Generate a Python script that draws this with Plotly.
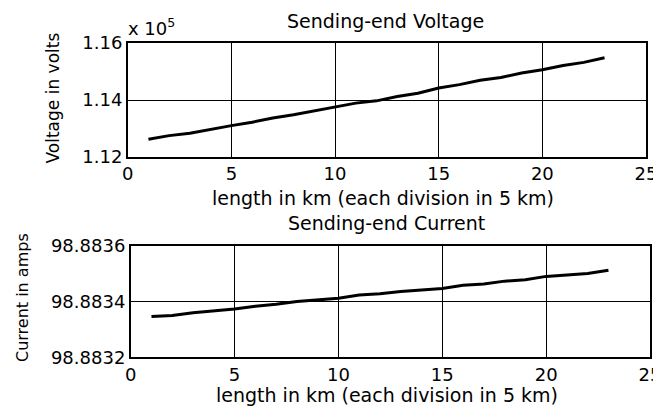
import plotly.graph_objects as go

length_km = list(range(1, 24))
voltage_v = [112620, 112750, 112830, 112970, 113100, 113220, 113370, 113480, 113620, 113750,
             113890, 113970, 114120, 114240, 114420, 114540, 114690, 114790, 114950, 115060,
             115210, 115320, 115480]
current_a = [98.883346, 98.883350, 98.883360, 98.883366, 98.883373, 98.883383, 98.883390,
             98.883400, 98.883405, 98.883412, 98.883423, 98.883428, 98.883436, 98.883441,
             98.883447, 98.883458, 98.883463, 98.883473, 98.883478, 98.883490, 98.883495,
             98.883500, 98.883512]
x_ticks = [0, 5, 10, 15, 20, 25]
v_ticks = [1.12, 1.14, 1.16]
i_ticks = [98.8832, 98.8834, 98.8836]

OFF = 8  # default page body margin
W, H = 661 - OFF, 410 - OFF
FONT = "DejaVu Sans"

fig = go.Figure()
fig.add_trace(go.Scatter(x=length_km, y=[v / 1e5 for v in voltage_v], mode="lines",
                         line=dict(color="black", width=3), xaxis="x", yaxis="y",
                         showlegend=False))
fig.add_trace(go.Scatter(x=length_km, y=current_a, mode="lines",
                         line=dict(color="black", width=3), xaxis="x2", yaxis="y2",
                         showlegend=False))

def px_x(p):
    return (p - OFF) / W

def px_y(p):
    return 1 - (p - OFF) / H

axis_common = dict(showgrid=True, gridcolor="black", gridwidth=1, zeroline=False,
                   showline=True, linecolor="black", linewidth=1.5, mirror=True,
                   automargin=False, ticks="", ticklabeloverflow="allow",
                   tickfont=dict(family=FONT, size=18, color="black"))

fig.update_layout(
    width=W, height=H,
    margin=dict(l=0, r=0, t=0, b=0),
    paper_bgcolor="white", plot_bgcolor="white",
    xaxis=dict(domain=[px_x(127.7), px_x(646)], range=[0, 25], tickvals=x_ticks,
               anchor="y", **axis_common),
    yaxis=dict(domain=[px_y(157), px_y(43)], range=[1.12, 1.16], tickvals=v_ticks,
               tickformat=".2f", anchor="x", **axis_common),
    xaxis2=dict(domain=[px_x(130.7), px_x(650)], range=[0, 25], tickvals=x_ticks,
                anchor="y2", **axis_common),
    yaxis2=dict(domain=[px_y(357.3), px_y(245.7)], range=[98.8832, 98.8836], tickvals=i_ticks,
                tickformat=".4f", anchor="x2", **axis_common),
)

def ann(text, x, y, size, angle=0, xanchor="center"):
    fig.add_annotation(text=text, x=px_x(x), y=px_y(y), xref="paper", yref="paper",
                       showarrow=False, xanchor=xanchor, yanchor="middle", textangle=angle,
                       font=dict(family=FONT, size=size, color="black"))

ann("Sending-end Voltage", 385, 21, 19)
ann("Sending-end Current", 386, 223, 19)
ann("length in km (each division in 5 km)", 383, 198, 19)
ann("length in km (each division in 5 km)", 387, 395, 19)
ann("Voltage in volts", 52, 98.5, 17, angle=-90)
ann("Current in amps", 22, 298, 16, angle=-90)
ann("x 10<sup>5</sup>", 126, 27, 18, xanchor="left")

fig.write_html("out.html")
